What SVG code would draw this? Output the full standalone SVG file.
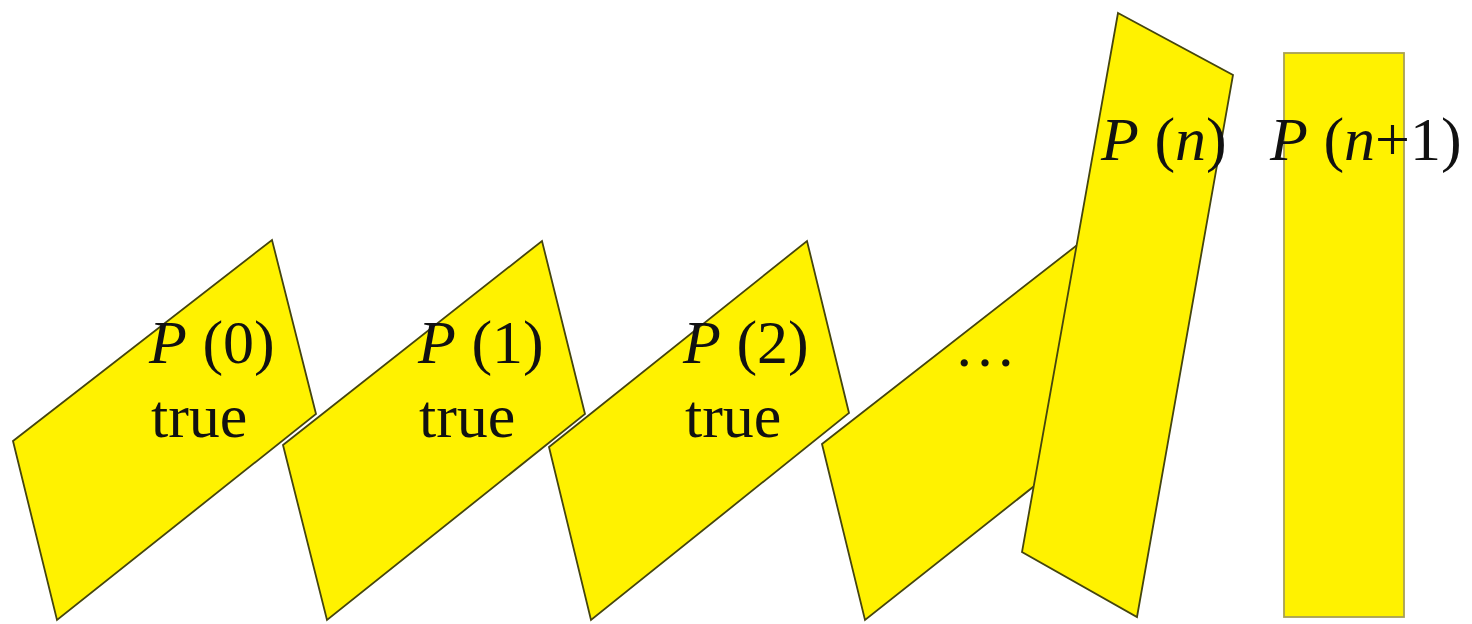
<svg xmlns="http://www.w3.org/2000/svg" width="1472" height="624" viewBox="0 0 1472 624">
  <style>
    .dom { fill: #FFF200; stroke: #45450e; stroke-width: 1.8; stroke-linejoin: miter; }
    .bar { fill: #FFF200; stroke: #a8a055; stroke-width: 1.8; }
    .lbl { font-family: "Liberation Serif", "Times New Roman", serif; font-size: 62px; fill: #111111; }
    .it { font-style: italic; }
  </style>
  <rect width="1472" height="624" fill="#ffffff"/>
  <g id="domino-3">
    <polygon class="dom" points="822,444 1081,242 1124,415 865,620"/>
  </g>
  <g id="domino-2">
    <polygon class="dom" points="549,447 807,241 849,413 591,620"/>
    <text class="lbl" x="683" y="363"><tspan class="it">P</tspan> (2)</text>
    <text class="lbl" x="685" y="437">true</text>
  </g>
  <g id="domino-1">
    <polygon class="dom" points="283,445 542,241 585,414 327,620"/>
    <text class="lbl" x="418" y="363"><tspan class="it">P</tspan> (1)</text>
    <text class="lbl" x="419" y="437">true</text>
  </g>
  <g id="domino-0">
    <polygon class="dom" points="13,441 272,240 316,414 57,620"/>
    <text class="lbl" x="149" y="363"><tspan class="it">P</tspan> (0)</text>
    <text class="lbl" x="151" y="437">true</text>
  </g>
  <g id="ellipsis">
    <text class="lbl" x="954" y="366">…</text>
  </g>
  <g id="domino-n">
    <polygon class="dom" points="1118,13 1233,75 1137,617 1022,552"/>
    <text class="lbl" x="1101" y="160"><tspan class="it">P</tspan> (<tspan class="it">n</tspan>)</text>
  </g>
  <g id="domino-n1">
    <rect class="bar" x="1284" y="53" width="120" height="564"/>
    <text class="lbl" x="1270" y="160"><tspan class="it">P</tspan> (<tspan class="it">n</tspan>+1)</text>
  </g>
  <g id="connectors"/>
</svg>
